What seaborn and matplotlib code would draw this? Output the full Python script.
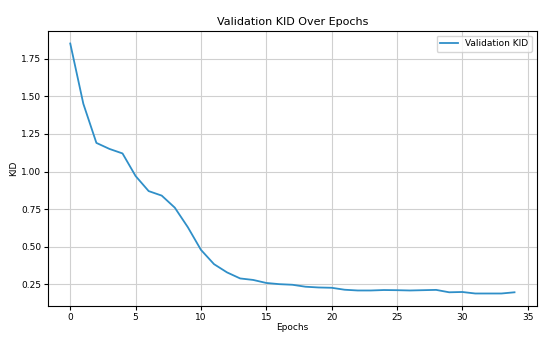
import matplotlib
matplotlib.use('Agg')
import matplotlib.pyplot as plt
import seaborn as sns
import pandas as pd

epochs = list(range(35))
val_kid = [1.85, 1.45, 1.19, 1.15, 1.12, 0.97, 0.87, 0.84, 0.76, 0.63,
           0.48, 0.385, 0.33, 0.29, 0.28, 0.26, 0.252, 0.248, 0.235, 0.23,
           0.228, 0.215, 0.21, 0.21, 0.213, 0.212, 0.21, 0.212, 0.214, 0.198,
           0.20, 0.19, 0.19, 0.19, 0.198]

df = pd.DataFrame({'Epoch': epochs, 'KID': val_kid})

plt.rcParams['font.size'] = 7
fig, ax = plt.subplots(figsize=(5.46, 3.37), dpi=100)
sns.lineplot(data=df, x='Epoch', y='KID', ax=ax, label='Validation KID', color='#2f8fc8', linewidth=1.3)

ax.set_title('Validation KID Over Epochs', fontsize=8, pad=4)
ax.set_xlabel('Epochs', fontsize=6.5, labelpad=1)
ax.set_ylabel('KID', fontsize=6.5, labelpad=2)
ax.tick_params(labelsize=6.5, length=3, pad=2)
ax.grid(True, color='#d0d0d0', linewidth=0.8)
ax.legend(loc='upper right', fontsize=6.5)

fig.subplots_adjust(left=0.088, right=0.983, top=0.908, bottom=0.092)
fig.savefig('out.png', dpi=100)
